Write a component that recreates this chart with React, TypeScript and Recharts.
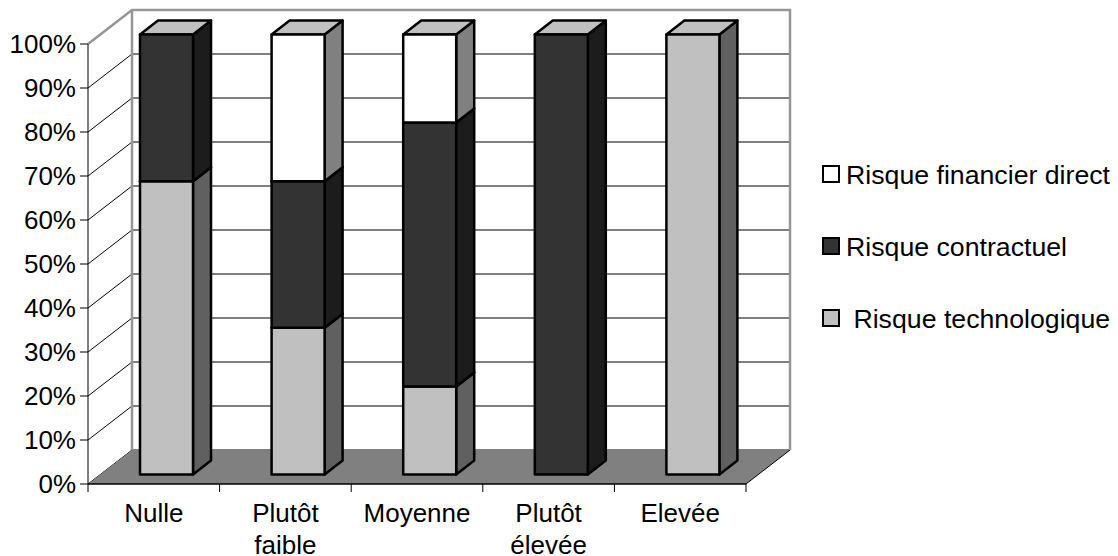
import { Bar, BarChart, CartesianGrid, Legend, XAxis, YAxis, usePlotArea } from "recharts";

const categories = ["Nulle", "Plutôt faible", "Moyenne", "Plutôt élevée", "Elevée"];
const technologique = [66.67, 33.33, 20, 0, 100];
const contractuel = [33.33, 33.33, 60, 100, 0];
const financier = [0, 33.34, 20, 0, 0];
const yTicks = [0, 10, 20, 30, 40, 50, 60, 70, 80, 90, 100];

const rows = categories.map((name, i) => ({
  name,
  technologique: technologique[i],
  contractuel: contractuel[i],
  financier: financier[i],
}));

const FONT = '"Liberation Sans", Arial, sans-serif';
const FONT_SIZE = 26;
// profondeur du mur du fond et des barres
const WALL_DX = 44;
const WALL_DY = 34;
const BAR_DX = 18;
const BAR_DY = 14;
const BAR_SHIFT_X = 13;
const BAR_SHIFT_Y = 9.5;
const TICK_LEN = 8;

function Walls() {
  const plot = usePlotArea();
  if (!plot) return null;
  const { x, y, width, height } = plot;
  const right = x + width;
  const bottom = y + height;
  const step = width / categories.length;
  return (
    <g>
      <polygon
        points={`${x},${bottom} ${x + WALL_DX},${bottom - WALL_DY} ${right + WALL_DX},${bottom - WALL_DY} ${right},${bottom}`}
        fill="#808080"
      />
      <line x1={right} y1={bottom} x2={right + WALL_DX} y2={bottom - WALL_DY} stroke="#000" strokeWidth={1} />
      <polyline
        points={`${x},${y} ${x + WALL_DX},${y - WALL_DY} ${right + WALL_DX},${y - WALL_DY} ${right + WALL_DX},${bottom - WALL_DY}`}
        fill="none"
        stroke="#969696"
        strokeWidth={2.5}
      />
      <line x1={x + WALL_DX} y1={y - WALL_DY} x2={x + WALL_DX} y2={bottom - WALL_DY} stroke="#969696" strokeWidth={2.5} />
      {/* graduations entre les categories */}
      {[0, 1, 2, 3, 4, 5].map((i) => (
        <line
          key={i}
          x1={x + i * step}
          x2={x + i * step}
          y1={bottom}
          y2={bottom + TICK_LEN}
          stroke="#000"
          strokeWidth={1}
        />
      ))}
    </g>
  );
}

// une ligne de la grille : diagonale sur le mur gauche + ligne sur le mur du fond
function gridLine(props: any) {
  const { x1, x2, y1, index } = props;
  return (
    <path
      key={`grid-${index}`}
      d={`M${x1},${y1}L${x1 + WALL_DX},${y1 - WALL_DY}L${x2 + WALL_DX},${y1 - WALL_DY}`}
      fill="none"
      stroke="#000"
      strokeWidth={1}
    />
  );
}

function box3d(front: string, side: string) {
  return function Box(props: any) {
    const { x, y, width, height } = props;
    if (!height) return <g />;
    const l = x + BAR_SHIFT_X;
    const t = y - BAR_SHIFT_Y;
    const r = l + width;
    const b = t + height;
    return (
      <g stroke="#000" strokeWidth={2.5} strokeLinejoin="round">
        <polygon
          points={`${r},${t} ${r + BAR_DX},${t - BAR_DY} ${r + BAR_DX},${b - BAR_DY} ${r},${b}`}
          fill={side}
        />
        <polygon
          points={`${l},${t} ${l + BAR_DX},${t - BAR_DY} ${r + BAR_DX},${t - BAR_DY} ${r},${t}`}
          fill="#c0c0c0"
        />
        <rect x={l} y={t} width={width} height={height} fill={front} />
      </g>
    );
  };
}

function CategoryTick(props: any) {
  const { x, y, payload } = props;
  const words = String(payload.value).split(" ");
  return (
    <text x={x} y={y} textAnchor="middle" fontFamily={FONT} fontSize={FONT_SIZE} fill="#000">
      {words.map((w, i) => (
        <tspan key={w} x={x} dy={i === 0 ? 28 : 32}>
          {w}
        </tspan>
      ))}
    </text>
  );
}

function LegendBox({ payload }: any) {
  const items = [...(payload ?? [])].reverse();
  return (
    <div style={{ fontFamily: FONT, fontSize: 26.7, color: "#000", height: 0 }}>
      {items.map((it: any) => (
        <div key={it.value} style={{ display: "flex", alignItems: "center", height: 36, marginBottom: 36, whiteSpace: "pre" }}>
          <span
            style={{
              width: 14,
              height: 14,
              border: "2.5px solid #000",
              background: it.color,
              marginRight: 6,
              flexShrink: 0,
            }}
          />
          <span style={{ position: "relative", top: 1 }}>{it.value}</span>
        </div>
      ))}
    </div>
  );
}

export default function App() {
  return (
    <div style={{ position: "absolute", left: 0, top: 0 }}>
      <BarChart
        width={1118}
        height={556}
        data={rows}
        barSize={53}
        margin={{ top: 44, right: 372, bottom: 0, left: 0 }}
      >
        <CartesianGrid horizontal={gridLine} vertical={false} />
        <XAxis
          dataKey="name"
          interval={0}
          height={72}
          tick={CategoryTick}
          tickSize={8}
          tickLine={false}
          axisLine={{ stroke: "#000", strokeWidth: 1.5 }}
        />
        <Walls />
        <YAxis
          width={88}
          domain={[0, 100]}
          ticks={yTicks}
          interval={0}
          tickFormatter={(v: number) => `${v}%`}
          tickSize={8}
          tickMargin={4}
          tick={{ fontFamily: FONT, fontSize: FONT_SIZE, fill: "#000" }}
          tickLine={{ stroke: "#000" }}
          axisLine={{ stroke: "#000" }}
        />
        <Legend
          layout="vertical"
          content={LegendBox}
          wrapperStyle={{ position: "absolute", left: 822, top: 156, width: 296, height: 0 }}
        />
        <Bar
          dataKey="technologique"
          name=" Risque technologique"
          stackId="a"
          fill="#c0c0c0"
          shape={box3d("#c0c0c0", "#606060")}
          isAnimationActive={false}
        />
        <Bar
          dataKey="contractuel"
          name="Risque contractuel"
          stackId="a"
          fill="#333333"
          shape={box3d("#333333", "#1c1c1c")}
          isAnimationActive={false}
        />
        <Bar
          dataKey="financier"
          name="Risque financier direct"
          stackId="a"
          fill="#ffffff"
          shape={box3d("#ffffff", "#808080")}
          isAnimationActive={false}
        />
      </BarChart>
    </div>
  );
}
